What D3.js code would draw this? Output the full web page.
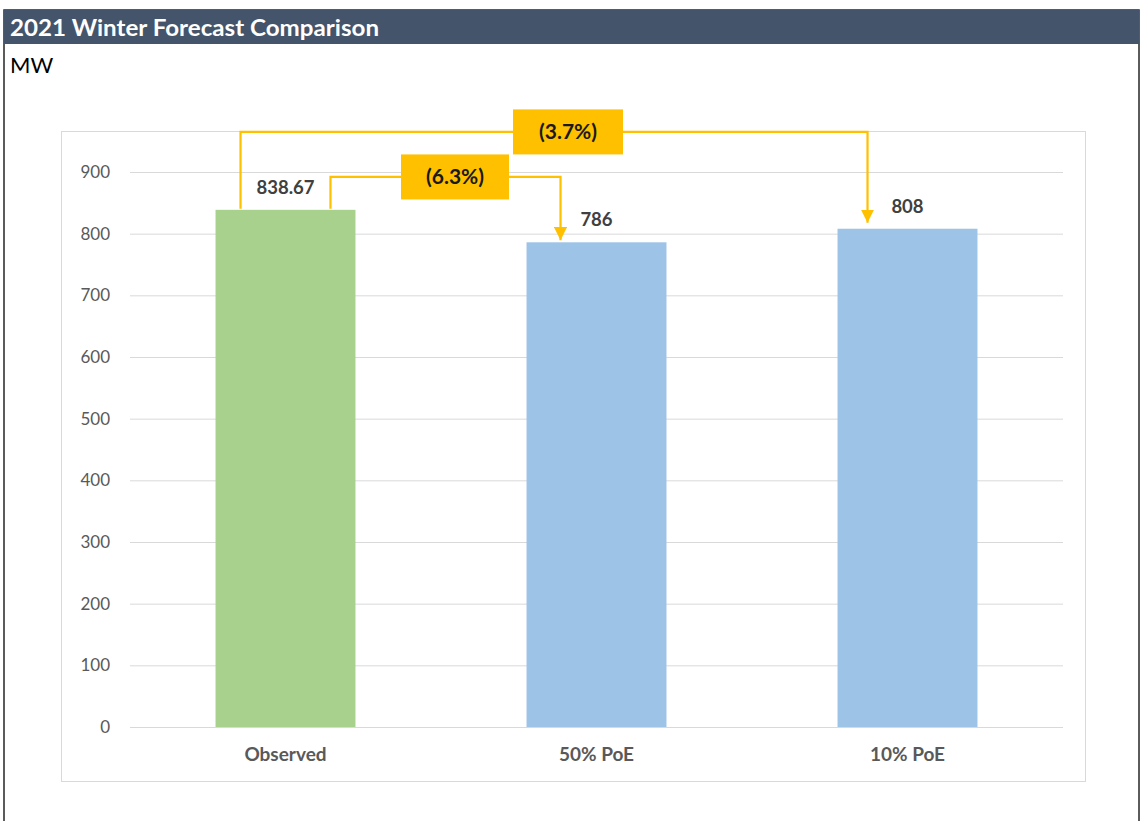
<!DOCTYPE html>
<html>
<head>
<meta charset="utf-8">
<script src="https://cdn.jsdelivr.net/npm/d3@7"></script>
<style>
  html, body { margin: 0; padding: 0; background: #ffffff; }
  svg { display: block; font-family: Lato, "Noto Sans", sans-serif; }
</style>
</head>
<body>
<svg id="chart" width="1141" height="821"></svg>
<script>
// Winter peak demand: observed vs forecasts (MW)
const categories = ["Observed", "50% PoE", "10% PoE"];
const values = [838.67, 786, 808];
const barColors = ["#A9D18E", "#9DC3E6", "#9DC3E6"];
const yTicks = [0, 100, 200, 300, 400, 500, 600, 700, 800, 900];

// Difference callouts from the observed value to each forecast
const calloutTargets = [1, 2];
const calloutLevels = [892, 965];   // height of the bracket line, in MW

const svg = d3.select("#chart");
const W = 1141, H = 821;

// Outer frame and title bar
svg.append("rect").attr("x", 4).attr("y", 10).attr("width", W - 6).attr("height", H)
  .attr("fill", "#ffffff").attr("stroke", "#262626").attr("stroke-width", 1.5);
svg.append("rect").attr("x", 4).attr("y", 10).attr("width", W - 6).attr("height", 34)
  .attr("fill", "#44546A");
svg.append("text").attr("x", 10).attr("y", 36)
  .attr("fill", "#ffffff").attr("font-weight", "bold").attr("font-size", 22)
  .attr("textLength", 369).attr("lengthAdjust", "spacingAndGlyphs")
  .text("2021 Winter Forecast Comparison");
svg.append("text").attr("x", 10).attr("y", 73)
  .attr("fill", "#000000").attr("font-size", 22)
  .text("MW");

// Chart area border
svg.append("rect").attr("x", 61.5).attr("y", 131.5).attr("width", 1024).attr("height", 650)
  .attr("fill", "none").attr("stroke", "#d9d9d9").attr("stroke-width", 1);

const plot = { left: 130, right: 1063, top: 172, bottom: 727 };

const x = d3.scaleBand().domain(categories).range([plot.left, plot.right])
  .paddingInner(0.55).paddingOuter(0.275);
const y = d3.scaleLinear().domain([0, 900]).range([plot.bottom, plot.top]);

// Gridlines + y axis labels
const yAxis = d3.axisLeft(y).tickValues(yTicks).tickSize(-(plot.right - plot.left)).tickPadding(20);
const gy = svg.append("g").attr("transform", `translate(${plot.left},0)`).call(yAxis);
gy.select(".domain").remove();
gy.selectAll(".tick line").attr("stroke", "#d9d9d9").attr("stroke-width", 1);
gy.selectAll(".tick text").attr("fill", "#595959").attr("font-size", 17)
  .attr("font-family", "Lato, sans-serif");

// Category axis labels
const xAxis = d3.axisBottom(x).tickSize(0).tickPadding(21);
const gx = svg.append("g").attr("transform", `translate(0,${plot.bottom})`).call(xAxis);
gx.select(".domain").remove();
gx.selectAll(".tick text").attr("fill", "#595959").attr("font-size", 19)
  .attr("font-weight", "bold").attr("font-family", "Lato, sans-serif");

// Bars
svg.append("g").selectAll("rect").data(values).join("rect")
  .attr("x", (d, i) => x(categories[i]))
  .attr("y", d => y(d))
  .attr("width", x.bandwidth())
  .attr("height", d => y(0) - y(d))
  .attr("fill", (d, i) => barColors[i]);

// Value labels
svg.append("g").selectAll("text").data(values).join("text")
  .attr("x", (d, i) => x(categories[i]) + x.bandwidth() / 2)
  .attr("y", d => y(d) - 16)
  .attr("text-anchor", "middle")
  .attr("fill", "#404040").attr("font-size", 18.5).attr("font-weight", "bold")
  .text(d => d3.format(",")(d));

// Callout brackets with percentage change
const orange = "#FFC000";
const bw = x.bandwidth();
const fromOffsets = [bw - 25, 25];   // where each bracket leaves the observed bar
const toOffsets = [34, 30];          // where each bracket lands on its target bar
const boxW = [108, 110], boxH = 45;
const boxCx = [455, 568];

const defs = svg.append("defs");
defs.append("marker").attr("id", "arrow").attr("viewBox", "0 0 10 10")
  .attr("refX", 10).attr("refY", 5).attr("markerWidth", 6).attr("markerHeight", 6)
  .attr("markerUnits", "strokeWidth").attr("orient", "auto")
  .append("path").attr("d", "M0,0 L10,5 L0,10 Z").attr("fill", orange);

const g = svg.append("g");
calloutTargets.forEach((t, k) => {
  const x0 = x(categories[0]) + fromOffsets[k];
  const x1 = x(categories[t]) + toOffsets[k];
  const yl = y(calloutLevels[k]);
  const yStart = y(values[0]) - 1;
  const yEnd = y(values[t]) - 2 - (t === 2 ? 4 : 0);
  g.append("path")
    .attr("d", `M${x0},${yStart} V${yl} H${x1} V${yEnd}`)
    .attr("fill", "none").attr("stroke", orange).attr("stroke-width", 2.2)
    .attr("marker-end", "url(#arrow)");
  const pct = (values[t] - values[0]) / values[0] * 100;
  const label = pct < 0 ? `(${Math.abs(pct).toFixed(1)}%)` : `${pct.toFixed(1)}%`;
  g.append("rect")
    .attr("x", boxCx[k] - boxW[k] / 2).attr("y", yl - boxH / 2)
    .attr("width", boxW[k]).attr("height", boxH).attr("fill", orange);
  g.append("text")
    .attr("x", boxCx[k]).attr("y", yl + 7)
    .attr("text-anchor", "middle").attr("fill", "#1a1a1a")
    .attr("font-size", 21).attr("font-weight", "bold")
    .text(label);
});
</script>
</body>
</html>
